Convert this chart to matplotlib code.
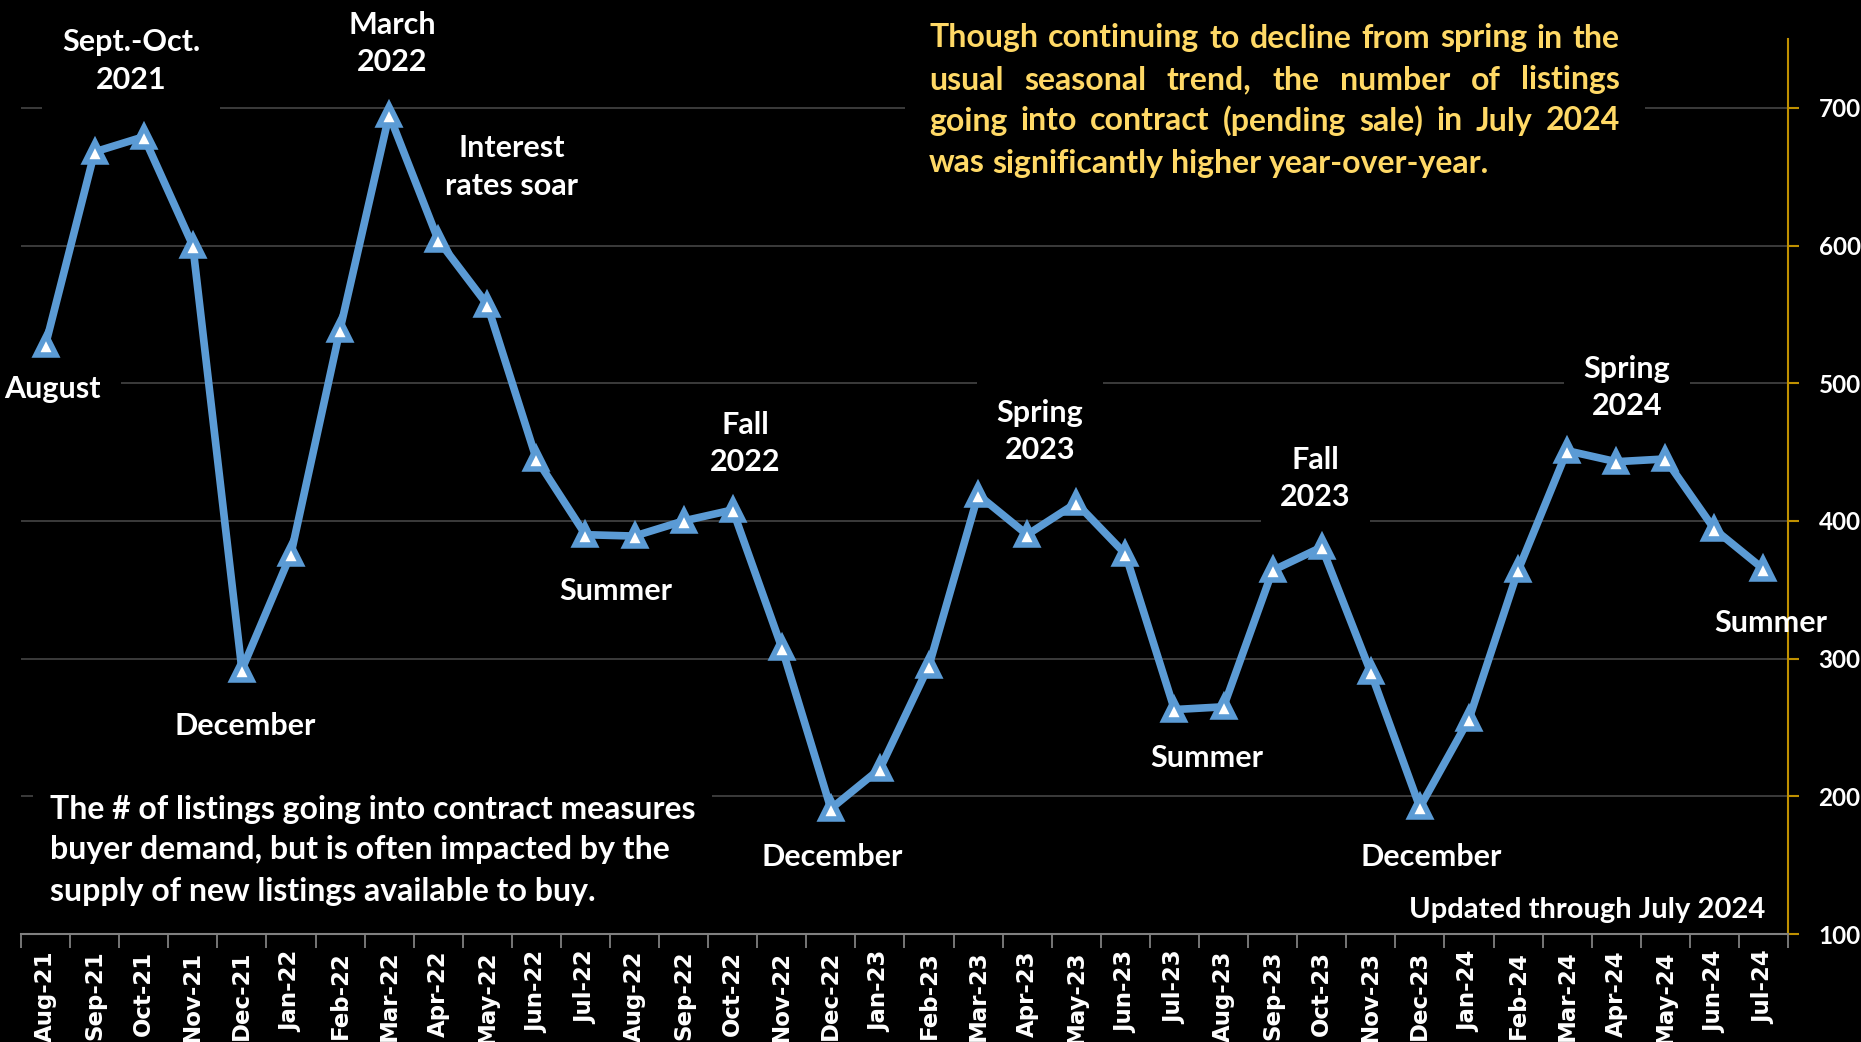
import numpy as np
import matplotlib
matplotlib.use("Agg")
import matplotlib.pyplot as plt
from matplotlib.patches import Rectangle

# monthly listings going into contract (pending sales)
months = ["Aug-21", "Sep-21", "Oct-21", "Nov-21", "Dec-21", "Jan-22", "Feb-22", "Mar-22",
          "Apr-22", "May-22", "Jun-22", "Jul-22", "Aug-22", "Sep-22", "Oct-22", "Nov-22",
          "Dec-22", "Jan-23", "Feb-23", "Mar-23", "Apr-23", "May-23", "Jun-23", "Jul-23",
          "Aug-23", "Sep-23", "Oct-23", "Nov-23", "Dec-23", "Jan-24", "Feb-24", "Mar-24",
          "Apr-24", "May-24", "Jun-24", "Jul-24"]
pending = [528, 668, 679, 600, 292, 376, 539, 695,
           604, 557, 445, 390, 389, 400, 408, 308,
           191, 220, 295, 419, 390, 413, 376, 263,
           265, 364, 381, 290, 192, 256, 364, 451,
           443, 445, 394, 365]
y_ticks = [100, 200, 300, 400, 500, 600, 700]

# callouts: (text, x position in months, y value)
callouts = [
    ("August", 0.15, 496),
    ("Sept.-Oct.\n2021", 1.74, 734),
    ("March\n2022", 7.06, 747),
    ("Interest\nrates soar", 9.5, 657),
    ("December", 4.06, 251),
    ("Summer", 11.62, 349),
    ("Fall\n2022", 14.25, 456),
    ("December", 16.02, 156),
    ("Spring\n2023", 20.26, 465),
    ("Summer", 23.66, 228),
    ("Fall\n2023", 25.87, 431),
    ("December", 28.23, 156),
    ("Spring\n2024", 32.22, 497),
]
last_label = ("Summer", 35.14, 326)

note_lines = ["Though continuing to decline from spring in the",
              "usual seasonal trend, the number of listings",
              "going into contract (pending sale) in July 2024",
              "was significantly higher year-over-year."]
demand_note = ("The # of listings going into contract measures\n"
               "buyer demand, but is often impacted by the\n"
               "supply of new listings available to buy.")
updated = "Updated through July 2024"

BLUE = "#5B9BD5"
GOLD = "#BF9000"
YELLOW = "#FFD966"
FONT = "Lato"
CALLOUT_SIZE = 22
NOTE_SIZE = 23

W, H = 1861, 1042
fig = plt.figure(figsize=(W / 100, H / 100), dpi=100, facecolor="black")
ax = fig.add_axes([21 / W, 1 - 934 / H, (1788 - 21) / W, (934 - 39) / H])
ax.set_facecolor("black")

x = np.arange(len(months))
ax.plot(x, pending, color=BLUE, lw=5.5, marker="^", ms=15, mfc="white",
        mec=BLUE, mew=4, zorder=6, solid_joinstyle="round")

ax.set_xlim(-0.5, len(months) - 0.5)
ax.set_ylim(100, 750)

# axes styling
for s in ["left", "top"]:
    ax.spines[s].set_visible(False)
ax.spines["bottom"].set_color("#808080")
ax.spines["bottom"].set_linewidth(1.5)
ax.spines["right"].set_color(GOLD)
ax.spines["right"].set_linewidth(1.5)

ax.yaxis.tick_right()
ax.set_yticks(y_ticks)
ax.set_yticklabels([str(v) for v in y_ticks], fontfamily=FONT, fontweight="bold",
                   fontsize=17.5, color="white")
ax.tick_params(axis="y", colors=GOLD, length=8, width=1.5, pad=14, labelcolor="white")
ax.grid(axis="y", color="#404040", lw=1.3, zorder=0)
ax.set_axisbelow(True)

ax.set_xticks(x)
ax.set_xticklabels(months, rotation=90, fontfamily="DejaVu Sans", fontweight="bold",
                   fontsize=16.5, color="white", va="top")
ax.tick_params(axis="x", length=0, pad=12)
ax.set_xticks(np.arange(-0.5, len(months), 1), minor=True)
ax.tick_params(axis="x", which="minor", length=10, width=1.3, color="#808080")

# season callouts
for txt, cx, cy in callouts:
    ax.text(cx, cy, txt, ha="center", va="center", color="white", fontsize=CALLOUT_SIZE,
            fontfamily=FONT, fontweight="bold", linespacing=1.4, zorder=5,
            bbox=dict(facecolor="black", edgecolor="none", pad=14))
ax.text(last_label[1], last_label[2], last_label[0], ha="center", va="center",
        color="white", fontsize=CALLOUT_SIZE, fontfamily=FONT, fontweight="bold",
        zorder=5, clip_on=False)

fig.text(50 / W, 1 - 850 / H, demand_note, ha="left", va="center", color="white",
         fontsize=NOTE_SIZE, fontfamily=FONT, fontweight="bold", linespacing=1.5,
         bbox=dict(facecolor="black", edgecolor="none", pad=12))
fig.text(1765 / W, 1 - 910 / H, updated, ha="right", va="center", color="white",
         fontsize=21, fontfamily=FONT, fontweight="bold")

# justified yellow note, top right
fig.patches.append(Rectangle((905 / W, 1 - 190 / H), 740 / W, 185 / H,
                             transform=fig.transFigure, facecolor="black",
                             edgecolor="none", zorder=2))
renderer = fig.canvas.get_renderer()
x0, x1 = 929, 1620
line_y = [38, 80, 121, 163]
font_kw = dict(fontsize=NOTE_SIZE, fontfamily=FONT, fontweight="bold")
space = (fig.text(0, 0, "a b", alpha=0, **font_kw).get_window_extent(renderer).width
         - fig.text(0, 0, "ab", alpha=0, **font_kw).get_window_extent(renderer).width)
for k, line in enumerate(note_lines):
    words = line.split()
    items = [fig.text(0, 1 - line_y[k] / H, w, ha="left", va="center", color=YELLOW,
                      zorder=3, **font_kw)
             for w in words]
    widths = [t.get_window_extent(renderer).width for t in items]
    if k < len(note_lines) - 1:
        gap = (x1 - x0 - sum(widths)) / (len(words) - 1)
    else:
        gap = space
    px = x0
    for t, w in zip(items, widths):
        t.set_x(px / W)
        px += w + gap

fig.savefig("out.png", dpi=100, facecolor="black")
